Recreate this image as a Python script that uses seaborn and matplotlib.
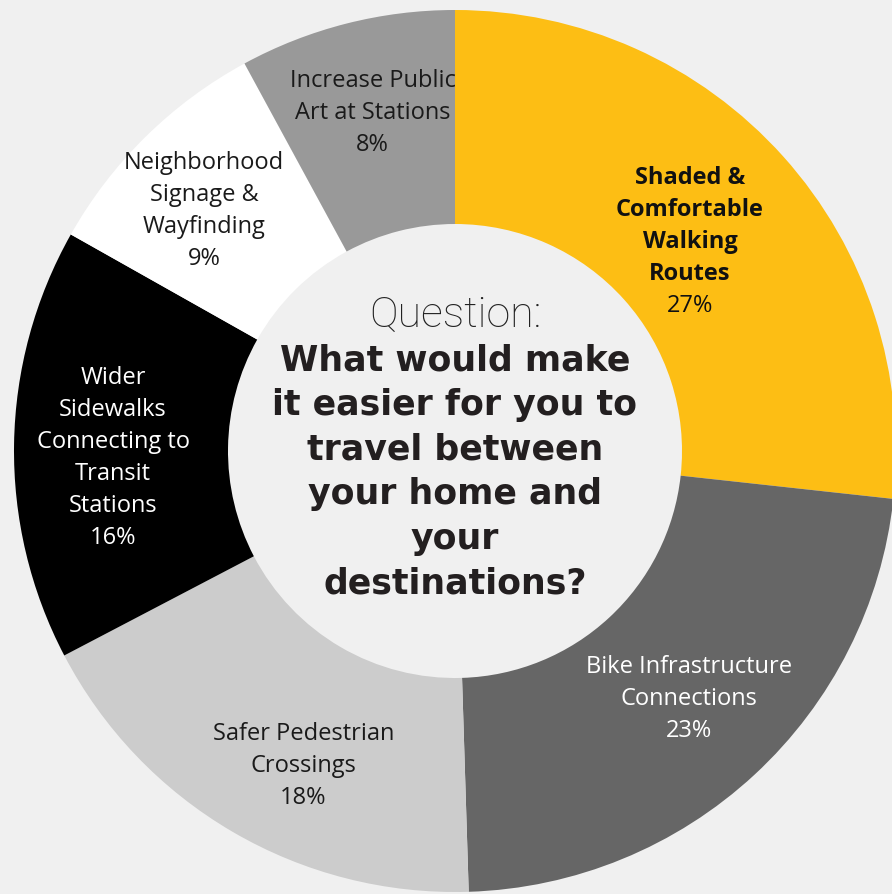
import matplotlib
matplotlib.use("Agg")
import numpy as np
import matplotlib.pyplot as plt
import seaborn as sns

# ---- data ----
CATEGORIES = [
    "Shaded &\nComfortable\nWalking\nRoutes",
    "Bike Infrastructure\nConnections",
    "Safer Pedestrian\nCrossings",
    "Wider\nSidewalks\nConnecting to\nTransit\nStations",
    "Neighborhood\nSignage &\nWayfinding",
    "Increase Public\nArt at Stations",
]
PERCENTS = [27, 23, 18, 16, 9, 8]
SLICE_COLORS = ["#fdbe14", "#666666", "#cccccc", "#000000", "#ffffff", "#999999"]
TEXT_COLORS = ["#111111", "#ffffff", "#1a1a1a", "#ffffff", "#1a1a1a", "#1a1a1a"]
BOLD_NAME = [True, False, False, False, False, False]

QUESTION_HEAD = "Question:"
QUESTION_BODY = ["What would make", "it easier for you to", "travel between",
                 "your home and", "your", "destinations?"]

# label placement (radius in px, angle tweak in degrees)
LABEL_RADIUS = [317, 338, 346, 342, 350, 352]
LABEL_SHIFT_DEG = [0.3, 1.0, 4.3, 1.4, 1.2, -0.7]

BG = "#f0f0f0"

sns.set_theme(style="white")
plt.rcParams["font.family"] = ["Open Sans", "DejaVu Sans"]

W, H = 892, 895
fig = plt.figure(figsize=(W / 100, H / 100), dpi=100, facecolor=BG)
ax = fig.add_axes([0, 0, 1, 1])
ax.set_facecolor(BG)

cx, cy = 455, H - 452
R_OUT, R_IN = 441, 227

palette = sns.color_palette(SLICE_COLORS)

wedges, _ = ax.pie(
    PERCENTS,
    colors=palette,
    startangle=90,
    counterclock=False,
    center=(cx, cy),
    radius=R_OUT,
    wedgeprops=dict(width=R_OUT - R_IN, edgecolor="none", linewidth=0),
    frame=True,
)
ax.set_xlim(0, W)
ax.set_ylim(0, H)
ax.set_aspect("equal")
ax.axis("off")

PITCH = 32
for w, name, pct, col, bold, r, da in zip(wedges, CATEGORIES, PERCENTS, TEXT_COLORS,
                                          BOLD_NAME, LABEL_RADIUS, LABEL_SHIFT_DEG):
    ang = np.deg2rad((w.theta1 + w.theta2) / 2 + da)
    x = cx + r * np.cos(ang)
    y = cy + r * np.sin(ang)
    lines = name.split("\n") + [f"{pct}%"]
    n = len(lines)
    top = y + (n - 1) / 2 * PITCH
    for i, line in enumerate(lines):
        weight = "bold" if (bold and i < n - 1) else "normal"
        ax.text(x, top - i * PITCH, line, ha="center", va="center_baseline",
                fontsize=17, fontweight=weight, color=col)

# centre question
ax.text(cx, H - 311, QUESTION_HEAD, ha="center", va="center_baseline",
        fontsize=31, fontweight="light", color="#222222",
        family=["Roboto", "DejaVu Sans"])
for i, line in enumerate(QUESTION_BODY):
    ax.text(cx, H - (357 + i * 44.6), line, ha="center", va="center_baseline",
            fontsize=25, fontweight="bold", color="#231f20",
            family=["DejaVu Sans"])

fig.savefig("out.png", dpi=100, facecolor=BG)
